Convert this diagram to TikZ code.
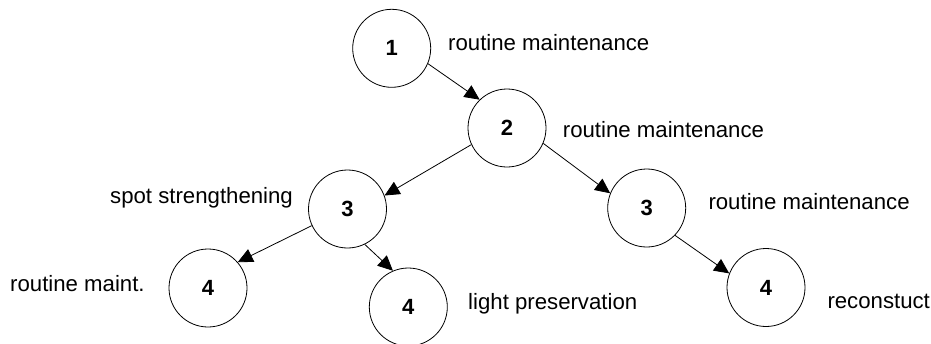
\documentclass[tikz,border=0pt]{standalone}
\usepackage{fontspec}
\setmainfont{Liberation Sans}
\usetikzlibrary{arrows.meta}
\begin{document}
\begin{tikzpicture}[x=1pt,y=-1pt,
  state/.style={circle,draw,line width=0.8pt,minimum size=78pt,inner sep=0pt,font=\fontsize{22}{22}\selectfont\bfseries},
  lbl/.style={anchor=base west,inner sep=0pt,font=\fontsize{22.2}{23}\selectfont},
  conn/.style={line width=0.8pt,-{Triangle[length=15pt,width=14pt]}}]
\useasboundingbox (0,0) rectangle (931,343);
\node[state] (n1) at (391.7,48.3) {1};
\node[state] (n2) at (507,128) {2};
\node[state] (n3l) at (347.5,209) {3};
\node[state] (n3r) at (646.7,208) {3};
\node[state] (n4a) at (208,288) {4};
\node[state] (n4b) at (408.3,307) {4};
\node[state] (n4c) at (766,287.5) {4};
\node[lbl] (t1) at (448,50) {routine maintenance};
\node[lbl] (t2) at (562.7,137) {routine maintenance};
\node[lbl] (t3l) at (110,203.3) {spot strengthening};
\node[lbl] (t3r) at (708.3,209.3) {routine maintenance};
\node[lbl] (t4a) at (10,291.7) {routine maint.};
\node[lbl] (t4b) at (468,309.3) {light preservation};
\node[lbl] (t4c) at (827.3,308.3) {reconstuct};
\draw[conn] (n1.-23) -- (n2.134);
\draw[conn] (n2.205.6) -- (n3l.20.6);
\draw[conn] (n2.-23.6) -- (n3r.158.5);
\draw[conn] (n3l.205.4) -- (n4a.41);
\draw[conn] (n3l.-64.2) -- (n4b.113);
\draw[conn] (n3r.-44.3) -- (n4c.159.4);
\end{tikzpicture}
\end{document}
